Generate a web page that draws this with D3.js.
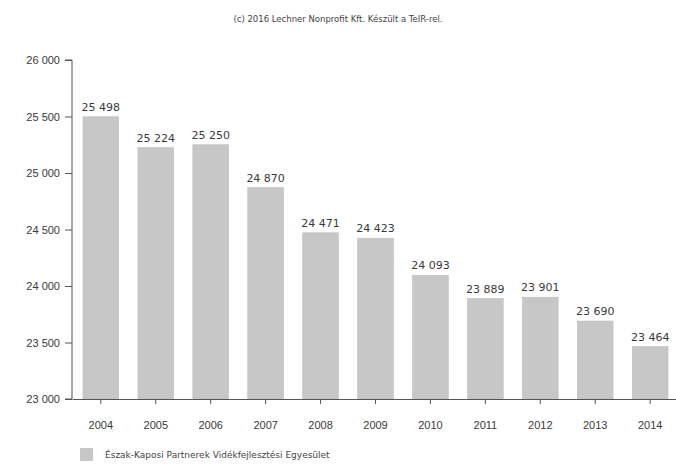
<!DOCTYPE html>
<html>
<head>
<meta charset="utf-8">
<script src="https://cdn.jsdelivr.net/npm/d3@7"></script>
<style>
  body { margin: 0; background: #fff; }
  svg { display: block; font-family: "DejaVu Sans", sans-serif; }
</style>
</head>
<body>
<div id="chart"></div>
<script>
// data
var years = ['2004', '2005', '2006', '2007', '2008', '2009', '2010', '2011', '2012', '2013', '2014'];
var values = [25498, 25224, 25250, 24870, 24471, 24423, 24093, 23889, 23901, 23690, 23464];
var yTicks = [23000, 23500, 24000, 24500, 25000, 25500, 26000];
var seriesName = 'Észak-Kaposi Partnerek Vidékfejlesztési Egyesület';
var credit = '(c) 2016 Lechner Nonprofit Kft. Készült a TeIR-rel.';

var svgWidth = 676;
var svgHeight = 467;

var margin = {
    top: 60,
    bottom: 68,
    left: 72,
    right: -3
}

var chartHeight = svgHeight - margin.top - margin.bottom;
var chartWidth = svgWidth - margin.left - margin.right;

var svg = d3.select('#chart')
    .append('svg')
    .attr('width', svgWidth)
    .attr('height', svgHeight)

var chartGroup = svg.append('g')
    .attr('transform', `translate(${margin.left},${margin.top})`);

var fmt = function(v) {
    return d3.format(',')(v).replace(',', ' ');
}

// scales
var xBandScale = d3.scaleBand()
    .domain(years)
    .range([0, chartWidth])
    .paddingInner(0.35)
    .paddingOuter(0.2)

var yLinearScale = d3.scaleLinear()
    .domain([23000, 26000])
    .range([chartHeight, 0])

// bars
chartGroup.selectAll('rect.bar')
    .data(values)
    .enter()
    .append('rect')
    .attr('class', 'bar')
    .attr('x', (d, i) => xBandScale(years[i]))
    .attr('y', d => yLinearScale(d))
    .attr('width', xBandScale.bandwidth())
    .attr('height', d => chartHeight - yLinearScale(d))
    .attr('fill', '#c7c7c7')
    .attr('stroke', '#bdbdbd')
    .attr('stroke-width', 0.6)

// value labels
chartGroup.selectAll('text.val')
    .data(values)
    .enter()
    .append('text')
    .attr('class', 'val')
    .attr('x', (d, i) => xBandScale(years[i]) + xBandScale.bandwidth() / 2)
    .attr('y', d => yLinearScale(d) - 6)
    .attr('text-anchor', 'middle')
    .attr('font-size', '11px')
    .attr('fill', '#3a3a3a')
    .text(d => fmt(d))

// axes
var leftAxis = d3.axisLeft(yLinearScale)
    .tickValues(yTicks)
    .tickSize(7)
    .tickPadding(5)
    .tickFormat(fmt)

var bottomAxis = d3.axisBottom(xBandScale)
    .tickSize(5)
    .tickSizeOuter(0)
    .tickPadding(17)

var yAxis = chartGroup.append('g')
    .call(leftAxis)

var xAxis = chartGroup.append('g')
    .attr('transform', `translate(0,${chartHeight})`)
    .call(bottomAxis)

yAxis.select('.domain').attr('stroke', '#555').attr('d', `M-7,0H0V${chartHeight}H-7`)
xAxis.select('.domain').attr('stroke', '#555')
yAxis.selectAll('line').attr('stroke', '#555')
xAxis.selectAll('line').attr('stroke', '#555')
yAxis.selectAll('text').attr('font-size', '11px').attr('fill', '#3a3a3a')
xAxis.selectAll('text').attr('font-size', '11px').attr('fill', '#3a3a3a')

// credit line
svg.append('text')
    .attr('x', svgWidth / 2)
    .attr('y', 22)
    .attr('text-anchor', 'middle')
    .attr('font-size', '8.5px')
    .attr('fill', '#444')
    .text(credit)

// legend
var legend = svg.append('g')
    .attr('transform', 'translate(80,448)')

legend.append('rect')
    .attr('width', 13)
    .attr('height', 13)
    .attr('fill', '#c7c7c7')

legend.append('text')
    .attr('x', 25)
    .attr('y', 10)
    .attr('font-size', '9px')
    .attr('fill', '#444')
    .text(seriesName)
</script>
</body>
</html>
